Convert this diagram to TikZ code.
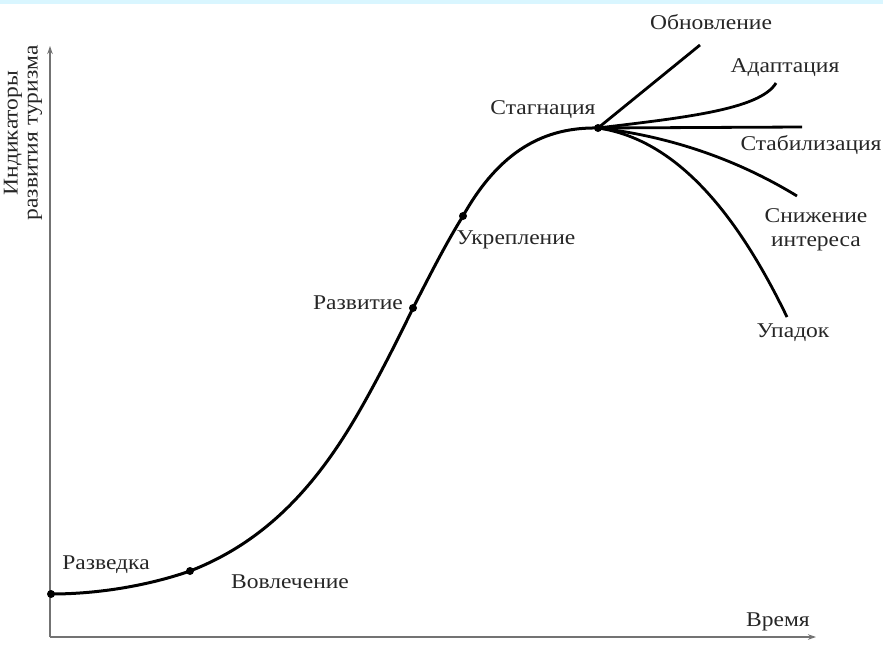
\documentclass[tikz,border=0pt]{standalone}
\usepackage{fontspec}
\setmainfont{Liberation Serif}
\newfontfamily\widefont[FakeStretch=1.12]{Liberation Serif}
\usetikzlibrary{arrows.meta}
\begin{document}
\begin{tikzpicture}[x=1pt,y=-1pt,
  lbl/.style={font=\widefont\fontsize{21}{24}\selectfont, text=black!85, inner sep=0pt},
  dot/.style={circle, fill=black, inner sep=0pt, minimum size=8pt},
  curve/.style={line width=3pt, black},
  branch/.style={line width=2.8pt, black},
  axis/.style={line width=1.1pt, black!55, -{Stealth[length=8pt,width=5.5pt]}}]
\useasboundingbox (0,0) rectangle (883,646);
\fill[blue!25!cyan!15] (0,0) rectangle (883,3.5);
% axes
\coordinate (O) at (50,637);
\coordinate (ytop) at (50,46);
\coordinate (xend) at (816,637);
\draw[axis] (O) -- (ytop);
\draw[axis] (O) -- (xend);
% stage points
\node[dot] (p1) at (51,594) {};
\node[dot] (p2) at (190,571) {};
\node[dot] (p3) at (413,308) {};
\node[dot] (p4) at (463,216) {};
\node[dot] (p5) at (598,128) {};
% main curve
\draw[curve] (p1.center) .. controls (100,594) and (150,585) .. (p2.center)
  .. controls (270,540) and (320,480) .. (360,410)
  .. controls (380,375) and (400,335) .. (p3.center)
  .. controls (430,275) and (445,245) .. (p4.center)
  .. controls (500,150) and (545,127) .. (p5.center);
% branches
\coordinate (b1) at (700,45);
\coordinate (b2) at (776,83);
\coordinate (b3) at (802,127);
\coordinate (b4) at (797,196);
\coordinate (b5) at (787,317);
\draw[branch] (p5.center) -- (b1);
\draw[branch] (p5.center) .. controls (680,118) and (760,110) .. (b2);
\draw[branch] (p5.center) -- (b3);
\draw[branch] (p5.center) .. controls (660,135) and (730,155) .. (b4);
\draw[branch] (p5.center) .. controls (680,140) and (740,220) .. (b5);
% labels
\node[lbl] (l1) at (711,22) {Обновление};
\node[lbl] (l2) at (785,68) {Адаптация};
\node[lbl] (l3) at (543,110) {Стагнация};
\node[lbl] (l4) at (811,145) {Стабилизация};
\node[lbl, align=center] (l5) at (816,230) {Снижение\\интереса};
\node[lbl] (l6) at (793,333) {Упадок};
\node[lbl] (l7) at (516,240) {Укрепление};
\node[lbl] (l8) at (358,303) {Развитие};
\node[lbl] (l9) at (106,565) {Разведка};
\node[lbl] (l10) at (290,582) {Вовлечение};
\node[lbl] (l11) at (778,622) {Время};
\node[lbl, rotate=90] (ly1) at (13,133) {Индикаторы};
\node[lbl, rotate=90] (ly2) at (35,133) {развития туризма};
\end{tikzpicture}
\end{document}
